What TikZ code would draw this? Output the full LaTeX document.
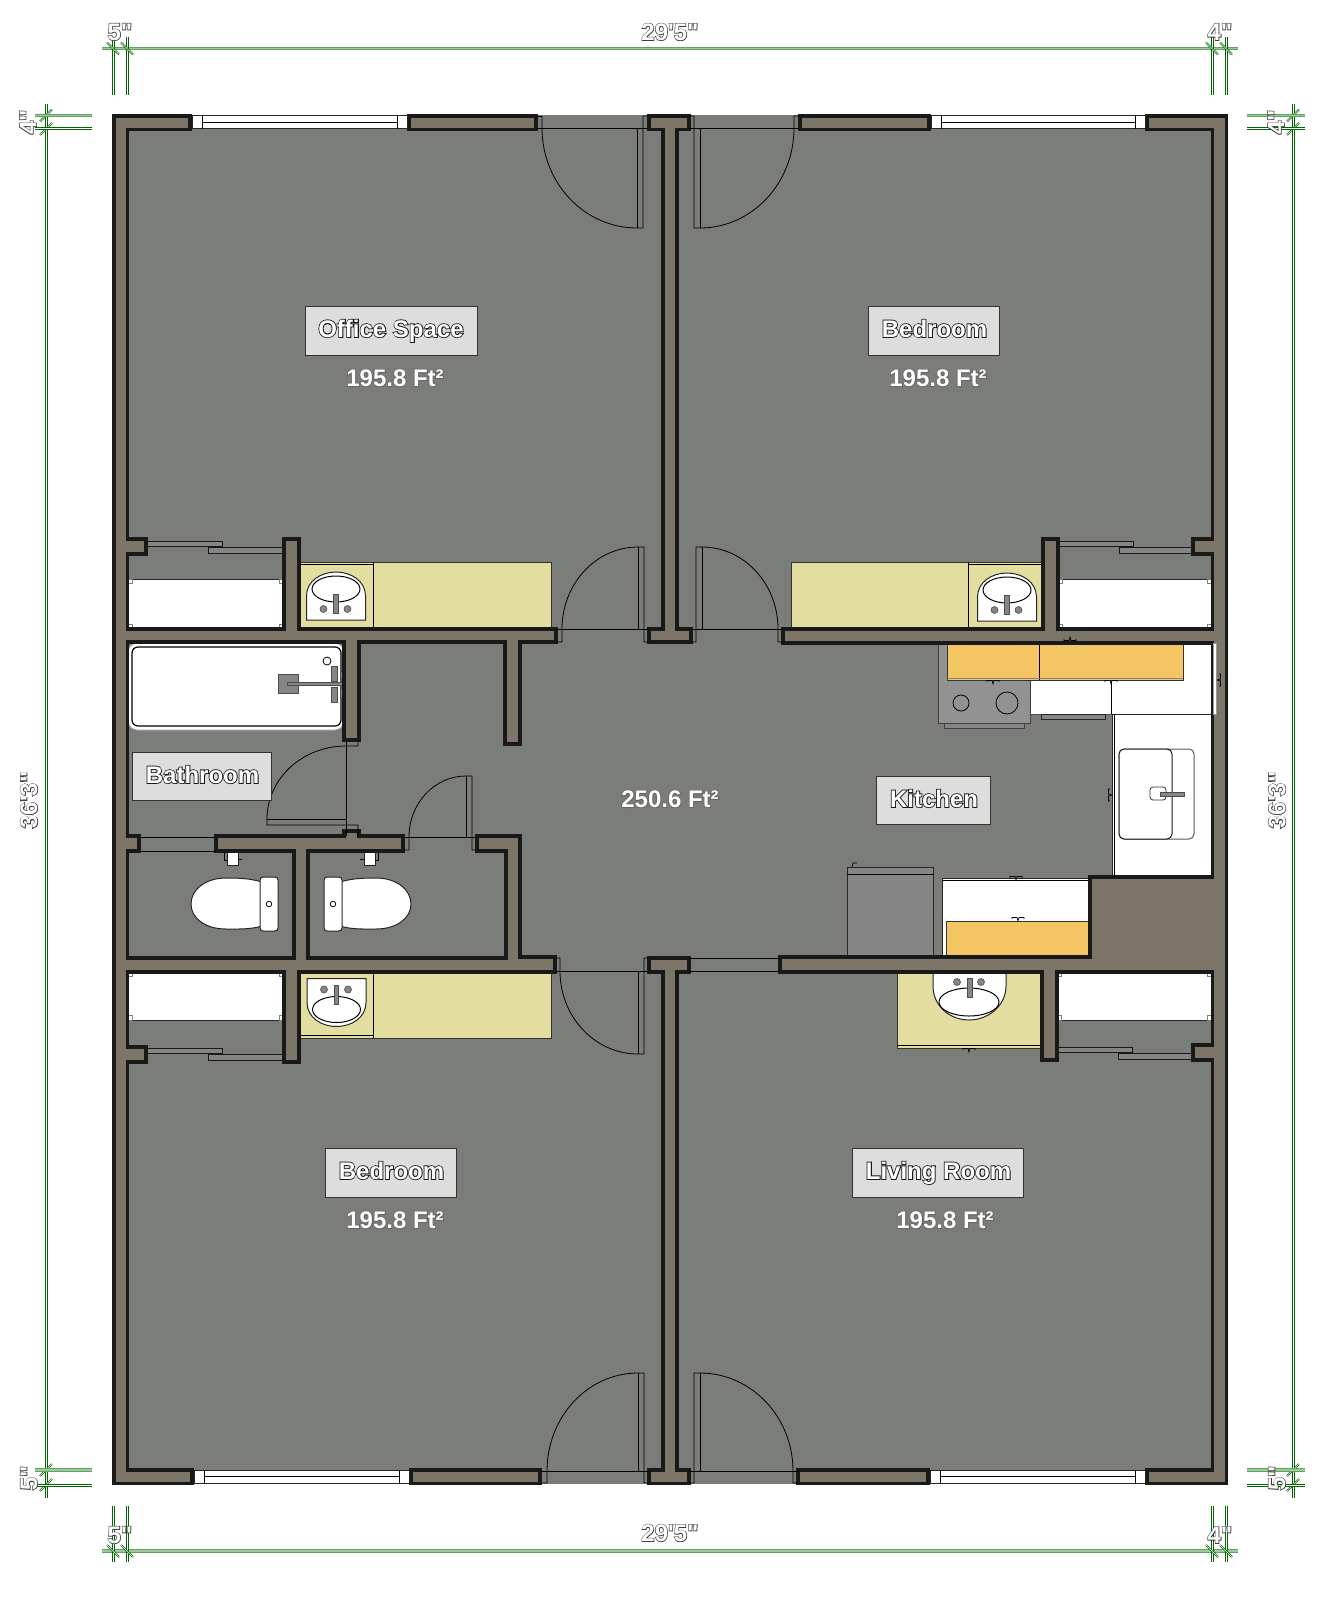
\documentclass[tikz,border=0pt]{standalone}
\usepackage{fontspec}
\newfontfamily\planfont{Liberation Sans Bold}
\newfontfamily\strokefont{Liberation Sans Bold}[FakeBold=7]
\newfontfamily\strokethin{Liberation Sans Bold}[FakeBold=5.5]
\newfontfamily\strokehalo{Liberation Sans Bold}[FakeBold=7]

\definecolor{floorc}{HTML}{7B7D78}
\definecolor{wallc}{HTML}{7C7568}
\definecolor{vanityc}{HTML}{E3DDA0}
\definecolor{cabinetc}{HTML}{F4C563}
\definecolor{tagc}{HTML}{DDDDDD}
\definecolor{fixturec}{HTML}{868686}
\definecolor{dimc}{HTML}{006400}
\definecolor{dimlightc}{HTML}{5FA35F}

\tikzset{
    wall/.style={fill=wallc,draw=black!90,line width=3.5pt,line join=miter},
    door/.style={draw=black,line width=.8pt},
    rail/.style={draw=black!90,line width=1pt,fill=fixturec!85!floorc},
    fixture/.style={fill=white,draw=black!85,line width=1pt},
    grayfix/.style={fill=fixturec,draw=black!85,line width=1pt},
    vanity/.style={fill=vanityc,draw=black!80,line width=1pt},
    cabinet/.style={fill=cabinetc,draw=black!80,line width=1pt},
    roomtag/.style={fill=tagc,draw=black!80,line width=1pt},
    roomname/.style={inner sep=0pt,anchor=base},
    dimline/.style={draw=dimc,double=white,double distance=1pt,line width=1pt},
    dimslash/.style={draw=dimc,double=white,double distance=.6pt,line width=.7pt},
    dimlight/.style={draw=dimlightc,double=dimlightc!60!white,double distance=1.4pt,line width=1.2pt},
    dimtext/.style={inner sep=0pt,anchor=center}
}

% white letters with a drawn edge
\newcommand{\edged}[1]{\fontsize{24}{24}\selectfont\rlap{\strokefont\color{black!90}#1}{\planfont\color{white}#1}}
\newcommand{\dimmed}[1]{\fontsize{24}{24}\selectfont\rlap{\strokethin\color{black!75}#1}{\planfont\color{white}#1}}
\newcommand{\area}[1]{\fontsize{24}{24}\selectfont\rlap{\strokehalo\color{black!60}#1}{\planfont\color{white}#1}}

\newcommand{\basin}{%
    \draw[fixture](-29.5,24)--(-29.5,0).. controls (-29.5,-15) and (-15,-24) .. (0,-24).. controls (15,-24) and (29.5,-15) .. (29.5,0)--(29.5,24)--cycle;
    \draw[black,line width=1pt](0,-7)ellipse[x radius=24,y radius=13];
    \fill[fixturec,draw=black!70,line width=.6pt](-2.5,-2)rectangle(2,17);
    \fill[fixturec,draw=black!70,line width=.6pt](-12.5,13)circle(3.5);
    \fill[fixturec,draw=black!70,line width=.6pt](11.5,13)circle(3.5);
}
\newcommand{\bowl}{%
    \draw[fixture](262,882).. controls (250,878.5) and (240,878) .. (226,878).. controls (205,878) and (191,890) .. (191,904).. controls (191,918) and (205,929) .. (226,929).. controls (240,929) and (250,929.5) .. (262,926)--cycle;
    \draw[fixture,rounded corners=3pt](260,877)rectangle(278,931);
    \draw[black,line width=.8pt](269,904)circle(2.8);
    \draw[fixture](227,851)rectangle(238,865);
    \draw[black,line width=.8pt](224,852)--(224,860)--(227,860);
    \draw[black,line width=.8pt](238,859)--(242,859);
}
\newcommand{\hooks}{\draw[black,line width=.7pt](-6,-2)--(-6,-3.5)--(-1,-3.5)--(0,0)--(1,-3.5)--(6,-3.5)--(6,-2);}

\begin{document}
\begin{tikzpicture}[x=1pt,y=-1pt]
    \useasboundingbox(0,0)rectangle(1340,1600);

    % floor
    \fill[floorc](114,115)rectangle(1226,1484);

    % closets
    \foreach \xa/\xb/\ya/\yb in {128/284/579/629,1058/1212/579/629,128/284/972/1020,1057/1212/972/1020}{
        \draw[fixture](\xa,\ya)rectangle(\xb,\yb);
        \draw[fill=white,draw=black!50,line width=.6pt](\xa,\ya)rectangle++(4.5,4.5);
        \draw[fill=white,draw=black!50,line width=.6pt](\xb,\ya)rectangle++(-4.5,4.5);
        \draw[fill=white,draw=black!50,line width=.6pt](\xa,\yb)rectangle++(4.5,-4.5);
        \draw[fill=white,draw=black!50,line width=.6pt](\xb,\yb)rectangle++(-4.5,-4.5);
    }
    \foreach \xa/\xb/\xc/\xd/\ya in {146/222/208/283/541,1058/1133/1119/1193/541,146/222/208/283/1048,1057/1132/1118/1193/1047}{
        \draw[rail](\xa,\ya)rectangle(\xb,\ya+5.5);
        \draw[rail](\xc,\ya+6)rectangle(\xd,\ya+12);
    }

    % vanities
    \draw[vanity](299,562)rectangle(551,629);
    \draw[door](373,562)--(373,629);
    \draw[door](299,564)--(373,564);
    \draw[vanity](791,562)rectangle(1044,629);
    \draw[door](968,562)--(968,629);
    \draw[door](968,564)--(1044,564);
    \draw[vanity](299,972)rectangle(551,1038);
    \draw[door](373,972)--(373,1038);
    \draw[door](299,1035)--(373,1035);
    \draw[vanity](897,972)rectangle(1042,1048);
    \draw[door](897,1045)--(1042,1045);
    \begin{scope}[shift={(336,596)}]\basin\end{scope}
    \begin{scope}[shift={(1007,597)}]\basin\end{scope}
    \begin{scope}[shift={(336.5,1002.5)},yscale=-1]\basin\end{scope}
    \draw[fixture](933,965)--(933,986).. controls (933,1006) and (950,1020) .. (969,1020).. controls (988,1020) and (1006,1006) .. (1006,986)--(1006,965)--cycle;
    \draw[black,line width=1pt](969,1002)ellipse[x radius=30,y radius=14];
    \fill[fixturec,draw=black!70,line width=.6pt](967,978)rectangle(972,997);
    \fill[fixturec,draw=black!70,line width=.6pt](957,982)circle(3.5);
    \fill[fixturec,draw=black!70,line width=.6pt](981,982)circle(3.5);

    % tub
    \draw[fill=white,draw=black!40,line width=1pt,rounded corners=9pt](128,643)rectangle(344,730);
    \draw[fill=white,draw=black,line width=1.2pt,rounded corners=6pt](132,647)rectangle(341,726);
    \draw[black,fill=white,line width=.8pt](327,661)circle(4);
    \fill[fixturec,draw=black!70,line width=.8pt](278,674)rectangle(298,693);
    \fill[fixturec,draw=black!70,line width=.8pt](287,682.5)rectangle(344,685.5);
    \foreach \xa/\ya/\xb/\yb in {331/666/337/681,331/687/337/702,340/671/344/678,340/688/344/697}{
        \fill[fixturec,draw=black!70,line width=.6pt](\xa,\ya)rectangle(\xb,\yb);
    }

    % toilets
    \bowl
    \begin{scope}[shift={(602,0)},xscale=-1]\bowl\end{scope}

    % kitchen
    \draw[fixture,draw=black!70](1030,643)rectangle(1212,714);
    \draw[door](1111,680)--(1111,714);
    \draw[grayfix,fill=fixturec!90!white,draw=black!75](938,643)rectangle(1030,723);
    \draw[grayfix,draw=black!75](944,723)rectangle(1024,728);
    \draw[door](961,703)circle(8);
    \draw[door](1007,703)circle(11);
    \draw[cabinet](947,643)rectangle(1183,680);
    \draw[door](1039,643)--(1039,680);
    \draw[draw=black!50,line width=.8pt](947,678)--(1183,678);
    \draw[grayfix](1041,714)rectangle(1105,719);
    \draw[fixture](1112,714)rectangle(1212,877);
    \draw[door](1114,714)--(1114,877);
    \draw[fill=white,draw=black!65,line width=1pt,rounded corners=5pt](1119,749)rectangle(1194,839);
    \draw[fill=white,draw=black!90,line width=1pt,rounded corners=5pt](1119,749)rectangle(1172,839);
    \draw[fill=white,draw=black!80,line width=.8pt,rounded corners=3pt](1150,787)rectangle(1166,800);
    \fill[fixturec,draw=black!70,line width=.6pt](1160,792)rectangle(1184,796);
    \draw[grayfix](847,867)rectangle(933,957);
    \draw[door](847,874)--(933,874);
    \draw[fixture](942,878)rectangle(1090,957);
    \draw[door](942,880)--(1090,880);
    \draw[cabinet](946,921)rectangle(1090,957);

    % walls
    \draw[wall](114,116)--(190,116)--(190,129.5)--(127.5,129.5)--(127.5,539)--(146,539)--(146,554)--(127.5,554)--(127.5,629)--(284,629)--(284,539)--(299,539)--(299,629)--(556,629)--(556,642)--(520,642)--(520,744)--(505,744)--(505,642)--(359,642)--(359,740)--(344,740)--(344,642)--(127.5,642)--(127.5,836)--(139,836)--(139,851)--(127.5,851)--(127.5,958)--(294,958)--(294,851)--(216,851)--(216,836)--(344,836)--(344,831)--(359,831)--(359,836)--(403,836)--(403,851)--(308,851)--(308,958)--(506,958)--(506,851)--(477,851)--(477,836)--(520,836)--(520,957)--(555,957)--(555,972)--(299,972)--(299,1062)--(284,1062)--(284,972)--(127.5,972)--(127.5,1047)--(146,1047)--(146,1062)--(127.5,1062)--(127.5,1470)--(192,1470)--(192,1483.5)--(114,1483.5)--cycle;
    \draw[wall](1147,116)--(1226.5,116)--(1226.5,1483.5)--(1147,1483.5)--(1147,1470)--(1212.5,1470)--(1212.5,1060)--(1193,1060)--(1193,1045)--(1212.5,1045)--(1212.5,972)--(1057,972)--(1057,1060)--(1042,1060)--(1042,972)--(780,972)--(780,957)--(1090,957)--(1090,877)--(1212.5,877)--(1212.5,643)--(783,643)--(783,629)--(1043,629)--(1043,539)--(1058,539)--(1058,629)--(1212.5,629)--(1212.5,554)--(1193,554)--(1193,539)--(1212.5,539)--(1212.5,129.5)--(1147,129.5)--cycle;
    \draw[wall](649,116)--(689,116)--(689,129.5)--(677,129.5)--(677,629)--(691,629)--(691,642)--(649,642)--(649,629)--(663,629)--(663,129.5)--(649,129.5)--cycle;
    \draw[wall](649,958)--(689,958)--(689,972)--(677,972)--(677,1470)--(689,1470)--(689,1483.5)--(649,1483.5)--(649,1470)--(663,1470)--(663,972)--(649,972)--cycle;
    \draw[wall](409,116)rectangle(536,129.5);
    \draw[wall](800,116)rectangle(929,129.5);
    \draw[wall](411,1470)rectangle(540,1483.5);
    \draw[wall](798,1470)rectangle(928,1483.5);

    % kitchen bits over the wall
    \draw[fill=white,draw=black!40,line width=.8pt](1213,643)rectangle(1216,714);
    \foreach \x/\y in {993/684,1111/684,1016/880,1018/921,969/1052}{
        \begin{scope}[shift={(\x,\y)}]\hooks\end{scope}
    }
    \begin{scope}[shift={(1070,637)},yscale=-1]\hooks\end{scope}
    \begin{scope}[shift={(1217,680)},rotate=-90]\hooks\end{scope}
    \begin{scope}[shift={(1112,795)},rotate=90]\hooks\end{scope}
    \draw[black,line width=.7pt](852,867)--(853,863)--(857,863);

    % windows
    \foreach \xa/\xb/\ya/\yb in {192/407/116/129,931/1145/116/129,194/409/1470/1483,930/1145/1470/1483}{
        \draw[fill=white,draw=black!85,line width=1pt](\xa,\ya)rectangle(\xb,\yb);
        \draw[door](\xa+10,\ya)--(\xa+10,\yb);
        \draw[door](\xb-10,\ya)--(\xb-10,\yb);
        \draw[door](\xa+10,\ya/2+\yb/2)--(\xb-10,\ya/2+\yb/2);
    }

    % doors
    \draw[door](537,128)--(648,128);
    \draw[door](542,116)--(542,128)arc[start angle=180,end angle=90,x radius=95,y radius=100]--(643,228)--(643,116)--(648,116);
    \draw[door](637,128)--(637,228);
    \draw[door](537,116)--(542,116);
    \draw[door](689,128)--(799,128);
    \draw[door](689,116)--(694,116)--(694,228)--(700,228)arc[start angle=90,end angle=0,x radius=94,y radius=100]--(794,116)--(799,116);
    \draw[door](700,128)--(700,228);

    \draw[door](556,629)--(649,629);
    \draw[door](556,642)--(562,642)--(562,629)arc[start angle=180,end angle=270,x radius=76,y radius=82]--(644,547)--(644,642)--(649,642);
    \draw[door](638,629)--(638,547);
    \draw[door](691,629)--(783,629);
    \draw[door](691,642)--(696,642)--(696,547)--(702,547)arc[start angle=270,end angle=360,x radius=76,y radius=82]--(778,642)--(783,642);
    \draw[door](702,547)--(702,629);

    \draw[door](555,971)--(649,971);
    \draw[door](555,958)--(560,958)--(560,971)arc[start angle=180,end angle=90,x radius=78,y radius=83]--(644,1054)--(644,958)--(649,958);
    \draw[door](638,971)--(638,1054);
    \draw[door](689,958)--(780,958);
    \draw[door](689,971)--(780,971);

    \draw[door](541,1471)--(649,1471);
    \draw[door](541,1483)--(547,1483)--(547,1471)arc[start angle=180,end angle=270,x radius=91,y radius=98]--(644,1373)--(644,1483)--(649,1483);
    \draw[door](638,1373)--(638,1471);
    \draw[door](689,1471)--(799,1471);
    \draw[door](689,1483)--(694,1483)--(694,1373)--(700,1373)arc[start angle=270,end angle=360,x radius=93,y radius=98]--(793,1483)--(799,1483);
    \draw[door](700,1373)--(700,1471);

    \draw[door](346,740)--(346,836);
    \draw[door](358,741)--(358,746)--(346,746)arc[start angle=270,end angle=180,x radius=79,y radius=73]--(267,825)--(358,825)--(358,836);
    \draw[door](267,819)--(346,819);
    \draw[door](139,837)--(216,837);
    \draw[door](139,851)--(216,851);
    \draw[door](403,837)--(477,837);
    \draw[door](403,850)--(409,850)--(409,837)arc[start angle=180,end angle=270,x radius=57,y radius=61]--(472,776)--(472,850)--(477,850);
    \draw[door](466,776)--(466,837);

    % room names
    \draw[roomtag](305,306)rectangle(477,355);
    \node(officename)[roomname]at(391,337){\edged{Office Space}};
    \node(officearea)[inner sep=0pt]at(395,378){\area{195.8 Ft²}};
    \draw[roomtag](868,306)rectangle(999,355);
    \node(bedonename)[roomname]at(934.5,337){\edged{Bedroom}};
    \node(bedonearea)[inner sep=0pt]at(938,378){\area{195.8 Ft²}};
    \draw[roomtag](132,752)rectangle(271,800);
    \node(bathname)[roomname]at(202.5,783){\edged{Bathroom}};
    \draw[roomtag](876,776)rectangle(990,824);
    \node(kitchenname)[roomname]at(934,807){\edged{Kitchen}};
    \node(hallarea)[inner sep=0pt]at(670,799){\area{250.6 Ft²}};
    \draw[roomtag](325,1148)rectangle(456,1197);
    \node(bedtwoname)[roomname]at(391.5,1179){\edged{Bedroom}};
    \node(bedtwoarea)[inner sep=0pt]at(395,1220){\area{195.8 Ft²}};
    \draw[roomtag](852,1148)rectangle(1023,1197);
    \node(livingname)[roomname]at(938.5,1179){\edged{Living Room}};
    \node(livingarea)[inner sep=0pt]at(945,1220){\area{195.8 Ft²}};

    % dimensions
    \foreach \y in {48.5,1551}{
        \draw[dimlight](102,\y)--(1238,\y);
    }
    \foreach \x in {113,127,1212,1226}{
        \draw[dimline](\x,37)--(\x,95);
        \draw[dimline](\x,1506)--(\x,1562);
        \draw[dimslash](\x-6,42.5)--(\x+6,54.5);
        \draw[dimslash](\x-6,1545)--(\x+6,1557);
    }
    \foreach \x in {46,1293}{
        \draw[dimline](\x,104)--(\x,1498);
        \foreach \y in {115.5,129,1470,1485}{
            \draw[dimslash](\x-6,\y+6)--(\x+6,\y-6);
        }
    }
    \foreach \xa/\xb in {35/92,1247/1305}{
        \draw[dimlight](\xa,115.5)--(\xb,115.5);
        \draw[dimline](\xa,129)--(\xb,129);
        \draw[dimlight](\xa,1470)--(\xb,1470);
        \draw[dimline](\xa,1485)--(\xb,1485);
    }
    \node(widthtop)[dimtext]at(670,32){\dimmed{29'5"}};
    \node(widthbot)[dimtext]at(670,1533){\dimmed{29'5"}};
    \node(cutlefttop)[dimtext]at(120,32){\dimmed{5"}};
    \node(cutrighttop)[dimtext]at(1220,32){\dimmed{4"}};
    \node(cutleftbot)[dimtext]at(120,1535){\dimmed{5"}};
    \node(cutrightbot)[dimtext]at(1220,1535){\dimmed{4"}};
    \node(heightleft)[dimtext,rotate=90]at(29,800){\dimmed{36'3"}};
    \node(heightright)[dimtext,rotate=90]at(1277,800){\dimmed{36'3"}};
    \node(cuthighleft)[dimtext,rotate=90]at(28,122){\dimmed{4"}};
    \node(cuthighright)[dimtext,rotate=90]at(1276,122){\dimmed{4"}};
    \node(cutlowleft)[dimtext,rotate=90]at(29,1478){\dimmed{5"}};
    \node(cutlowright)[dimtext,rotate=90]at(1277,1478){\dimmed{5"}};
\end{tikzpicture}
\end{document}
